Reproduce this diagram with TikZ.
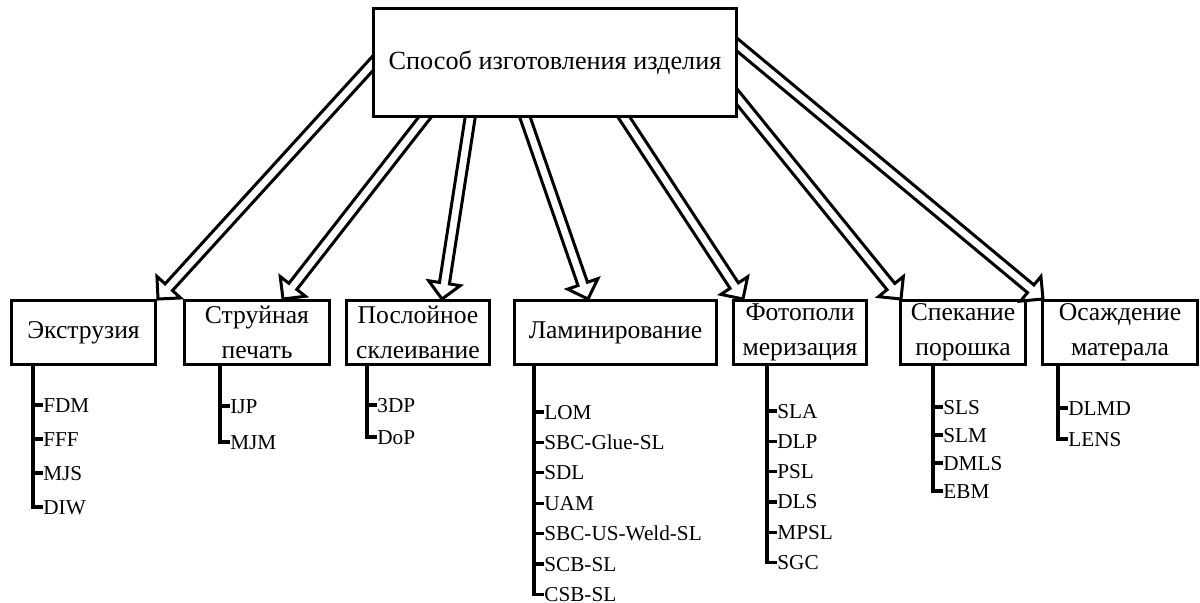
\documentclass[tikz,border=0pt]{standalone}
\usepackage{fontspec}
\setmainfont{Liberation Serif}
\usetikzlibrary{calc,positioning}
\newcommand{\topfont}{\fontsize{13.1}{16}\selectfont}
\newcommand{\grpfont}{\fontsize{12.8}{17.5}\selectfont}
\newcommand{\itmfont}{\fontsize{10.6}{12}\selectfont}

\begin{document}
\begin{tikzpicture}[x=0.5pt,y=-0.5pt,
  top/.style={draw,line width=1.6pt,fill=white,font=\topfont,
    minimum width=181.5pt,minimum height=54pt},
  grp/.style={draw,line width=1.5pt,font=\grpfont,align=center,
    minimum height=32pt,inner sep=1pt},
  itm/.style={anchor=west,inner sep=0pt,font=\itmfont,
    text height=7pt,text depth=0pt},
  blk/.style={draw,line width=1.5pt,fill=white,line join=miter},
  tree/.style={line width=1.6pt}
]
  \useasboundingbox (0,0) rectangle (1200,602);
  \coordinate (topc) at (555,62.5);
  \node[grp,minimum width=72pt] (ext) at (83.5,332.5) {Экструзия};
  \node[grp,minimum width=72.5pt,right=13pt of ext] (jet) {Струйная\\печать};
  \node[grp,minimum width=71.5pt,right=7pt of jet] (lay) {Послойное\\склеивание};
  \node[grp,minimum width=101pt,right=11pt of lay] (lam) {Ламинирование};
  \node[grp,minimum width=66.5pt,right=7pt of lam] (foto) {Фотополи\\меризация};
  \node[grp,minimum width=62.5pt,right=15.5pt of foto] (sint) {Спекание\\порошка};
  \node[grp,minimum width=77.5pt,right=7pt of sint] (dep) {Осаждение\\матерала};
  % block arrows
  \foreach \g/\dx/\tx/\ty in {ext/148/-170/-12.5,jet/100/-119/40.5,
      lay/97/-82/36.5,lam/75/-36/37.5,foto/11/59/39.5,
      sint/2/170/19.5,dep/2/168/-29.5}
  {
    \coordinate (t) at ($(topc)+(\tx,\ty)$);
    \coordinate (p) at ($(\g.north west)+(\dx,0)$);
    \coordinate (b) at ($(p)!8pt!(t)$);
    \draw[blk] ($(t)!2.5pt!90:(p)$) -- ($(b)!2.5pt!90:(p)$)
      -- ($(b)!8pt!90:(p)$) -- (p) -- ($(b)!8pt!-90:(p)$)
      -- ($(b)!2.5pt!-90:(p)$) -- ($(t)!2.5pt!-90:(p)$);
  }
  \node[top] (top) at (topc) {Способ изготовления изделия};
  % method lists
  \foreach \g/\dx/\dy/\st/\items in {
      ext/23/39/34/{FDM,FFF,MJS,DIW},
      jet/37/40/36/{IJP,MJM},
      lay/22/39/32/{3DP,DoP},
      lam/21/46/30.4/{LOM,SBC-Glue-SL,SDL,UAM,SBC-US-Weld-SL,SCB-SL,CSB-SL},
      foto/35/45/30.3/{SLA,DLP,PSL,DLS,MPSL,SGC},
      sint/34/41/28/{SLS,SLM,DMLS,EBM},
      dep/17/42/31/{DLMD,LENS}}
    \foreach \nm [count=\i] in \items {
      \node[itm] (\g\i) at ($(\g.south west)+(\dx+10,\dy+\i*\st-\st)$) {\nm};
      \draw[tree] ($(\g.south west)+(\dx,0)$) |- (\g\i.west);
    }
\end{tikzpicture}
\end{document}
